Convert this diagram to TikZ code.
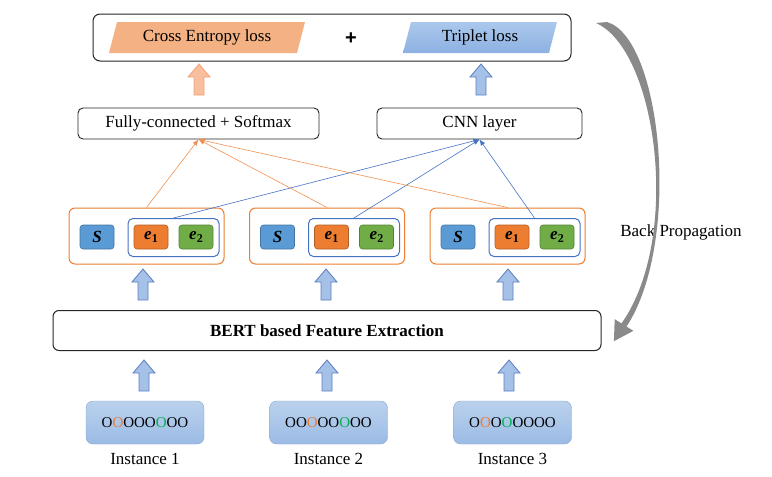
\documentclass[tikz,border=0pt]{standalone}
\usepackage{fontspec}
\setmainfont{Liberation Serif}
\newfontfamily\plusfont{Liberation Sans}
\usetikzlibrary{arrows.meta}
\definecolor{ored}{HTML}{ED7D31}
\definecolor{olight}{HTML}{F4B183}
\definecolor{oafill}{HTML}{F8BE9E}
\definecolor{oadraw}{HTML}{F3A37A}
\definecolor{bblue}{HTML}{4472C4}
\definecolor{sblue}{HTML}{5B9BD5}
\definecolor{ggreen}{HTML}{70AD47}
\definecolor{bafill}{HTML}{A6C1E8}
\definecolor{badraw}{HTML}{5B7DBE}
\definecolor{tripA}{HTML}{ABC8EC}
\definecolor{tripB}{HTML}{8DB1E2}
\definecolor{instA}{HTML}{BAD1ED}
\definecolor{instB}{HTML}{9BBBE5}
\definecolor{ogreen}{HTML}{00B050}
\definecolor{bpgray}{HTML}{8A8A8A}
\newcommand{\ee}[1]{\textbf{\textit{e}}{\fontsize{12}{12}\selectfont\raisebox{-3pt}{\textbf{#1}}}}
\newcommand{\oo}{\textcolor{ored}{O}}
\newcommand{\og}{\textcolor{ogreen}{O}}
\tikzset{
  mainfont/.style={font=\fontsize{17}{20}\selectfont},
  bigbox/.style={draw=black!85, line width=1pt, rounded corners=7pt, inner sep=0pt},
  layerbox/.style={draw=black!85, line width=0.9pt, rounded corners=5pt, inner sep=0pt},
  groupbox/.style={draw=ored, line width=1pt, rounded corners=6pt, minimum width=155pt, minimum height=56pt, inner sep=0pt},
  pairbox/.style={draw=bblue, line width=1pt, rounded corners=5pt, minimum width=91pt, minimum height=38pt, inner sep=0pt},
  tok/.style={draw=#1!75!black, fill=#1, line width=0.6pt, rounded corners=3pt, minimum width=34pt, minimum height=24pt, inner sep=0pt},
  instbox/.style={draw=instB!90!black, line width=0.4pt, top color=instA, bottom color=instB, rounded corners=7pt, minimum width=118pt, minimum height=43pt, inner sep=0pt, font=\fontsize{15}{18}\selectfont},
  oline/.style={draw=ored!85, line width=0.6pt, -{Latex[length=6pt,width=5pt]}},
  bline/.style={draw=bblue, line width=0.6pt, -{Latex[length=6pt,width=5pt]}},
  pics/blockarrow/.style 2 args={code={
    \draw[draw=#2, fill=#1, line width=0.8pt, line join=miter]
      (-5,0) -- (-5,-18) -- (-11,-18) -- (0,-31) -- (11,-18) -- (5,-18) -- (5,0) -- cycle;}}
}
\begin{document}
\begin{tikzpicture}[x=1pt,y=-1pt, mainfont]
\useasboundingbox (0,0) rectangle (772,477);

% top loss box
\node[bigbox, minimum width=478pt, minimum height=47pt] (top) at (332,37.5) {};
\fill[olight] (109,53) -- (117,22) -- (305,22) -- (297,53) -- cycle;
\node (ce) at (207,37.5) {Cross Entropy loss};
\shade[top color=tripA, bottom color=tripB] (403,53) -- (411,22) -- (557,22) -- (549,53) -- cycle;
\node (tl) at (480,37.5) {Triplet loss};
\node[font=\plusfont\bfseries\fontsize{20}{22}\selectfont] (plus) at (351,39) {+};

% block arrows to top box
\pic at (199,95) {blockarrow={oafill}{oadraw}};
\pic at (481,95) {blockarrow={bafill}{badraw}};

% layers
\node[layerbox, minimum width=241pt, minimum height=31pt] (fc) at (198.5,123.5) {Fully-connected + Softmax};
\node[layerbox, minimum width=205pt, minimum height=31pt] (cnn) at (479.5,123.5) {CNN layer};

% groups
\foreach \i/\dx in {1/0, 2/180.5, 3/361} {
  \node[groupbox] (g\i) at (146.5+\dx,236) {};
  \node[tok=sblue] (s\i) at (97+\dx,237) {\textbf{\textit{S}}};
  \node[pairbox] (p\i) at (173.5+\dx,237.5) {};
  \node[tok=ored] (a\i) at (151+\dx,237) {\ee{1}};
  \node[tok=ggreen] (b\i) at (196+\dx,237) {\ee{2}};
}

% connectors
\foreach \i in {1,2,3} {
  \draw[oline] (g\i.north) -- (fc.south);
  \draw[bline] (p\i.north) -- (cnn.south);
}

% block arrows groups <- BERT
\pic at (143,300) {blockarrow={bafill}{badraw}};
\pic at (326,300) {blockarrow={bafill}{badraw}};
\pic at (508,300) {blockarrow={bafill}{badraw}};

% BERT
\node[bigbox, rounded corners=6pt, minimum width=548pt, minimum height=40pt] (bert) at (327,330.5) {\textbf{BERT based Feature Extraction}};

% block arrows BERT <- instances
\pic at (144,391) {blockarrow={bafill}{badraw}};
\pic at (327,391) {blockarrow={bafill}{badraw}};
\pic at (509,391) {blockarrow={bafill}{badraw}};

% instances
\node[instbox] (i1) at (145,422.5) {O\oo OOO\og OO};
\node[instbox] (i2) at (328.5,422.5) {OO\oo OO\og OO};
\node[instbox] (i3) at (512.5,422.5) {O\oo O\og OOOO};
\node (l1) at (145,459) {Instance 1};
\node (l2) at (328.5,459) {Instance 2};
\node (l3) at (512.5,459) {Instance 3};

% back propagation
\node (bp) at (681,232) {Back Propagation};
\fill[bpgray]
  (596,23) -- (607,22)
  .. controls (662,38) and (682,242) .. (626.5,326.6)
  -- (633.4,330.8) -- (613.9,341.2) -- (614.7,319.2) -- (621.5,323.4)
  .. controls (682,238) and (657,50) .. (596,23) -- cycle;
\end{tikzpicture}
\end{document}
